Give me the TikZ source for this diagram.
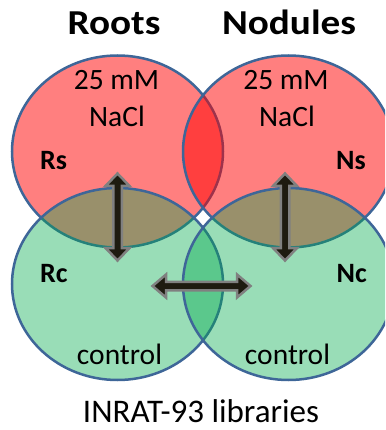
\documentclass[tikz,border=0pt]{standalone}
\usepackage{fontspec}
\setmainfont{Carlito}
\definecolor{vennline}{RGB}{62,102,152}
\definecolor{vred}{RGB}{255,0,0}
\definecolor{vgreen}{RGB}{0,170,77}
\definecolor{arrowfill}{RGB}{30,27,16}
\definecolor{arrowgray}{RGB}{128,128,128}
\begin{document}
\begin{tikzpicture}[x=1pt,y=-1pt,
  venn/.style={draw=vennline, line width=2.5pt},
  redset/.style={venn, fill=vred, fill opacity=0.5},
  greenset/.style={venn, fill=vgreen, fill opacity=0.4},
  blockarrow/.style={fill=arrowfill, draw=arrowgray, line width=2.5pt, line join=miter},
  title/.style={font=\fontsize{35}{40}\selectfont\bfseries, anchor=base, xscale=1.12},
  lab/.style={font=\fontsize{29.5}{34}\selectfont, anchor=base},
  setlab/.style={font=\fontsize{28}{32}\selectfont\bfseries, inner sep=0pt}]
\useasboundingbox (0,0) rectangle (385,430);
\clip (0,0) rectangle (385,430);
\fill[white] (0,0) rectangle (385,430);
% sets
\draw[redset] (117.5,151.5) ellipse [x radius=105.5pt, y radius=96pt];
\draw[redset] (288.5,151.5) ellipse [x radius=105.5pt, y radius=96pt];
\draw[greenset] (117.5,284) ellipse [x radius=105.5pt, y radius=96pt];
\draw[greenset] (288.5,284) ellipse [x radius=105.5pt, y radius=96pt];
% block arrows
\draw[blockarrow] (117.5,173.5) -- (129.5,186) -- (121.75,186) -- (121.75,248) -- (129.5,248) -- (117.5,260.5) -- (105.5,248) -- (113.25,248) -- (113.25,186) -- (105.5,186) -- cycle;
\draw[blockarrow] (285,173.5) -- (297,186) -- (289.25,186) -- (289.25,248) -- (297,248) -- (285,260.5) -- (273,248) -- (280.75,248) -- (280.75,186) -- (273,186) -- cycle;
\draw[blockarrow] (152.5,286) -- (166,274.5) -- (166,281.75) -- (237,281.75) -- (237,274.5) -- (250.5,286) -- (237,297.5) -- (237,290.25) -- (166,290.25) -- (166,297.5) -- cycle;
% texts
\node[title] (roots) at (114,35) {Roots};
\node[title] (nodules) at (289,35) {Nodules};
\node[lab] (saltR) at (116.5,90) {25 mM};
\node[lab] (naclR) at (117,127) {NaCl};
\node[lab] (saltN) at (286,90) {25 mM};
\node[lab] (naclN) at (287,127) {NaCl};
\node[setlab, anchor=base west] (rs) at (40,170) {Rs};
\node[setlab, anchor=base east] (ns) at (366,170) {Ns};
\node[setlab, anchor=base west] (rc) at (40,282) {Rc};
\node[setlab, anchor=base east] (nc) at (367,282) {Nc};
\node[lab] (ctrlR) at (119.5,364) {control};
\node[lab] (ctrlN) at (287.5,364) {control};
\node[font=\fontsize{33}{38}\selectfont, anchor=base] (lib) at (201,422) {INRAT-93 libraries};
\end{tikzpicture}
\end{document}
